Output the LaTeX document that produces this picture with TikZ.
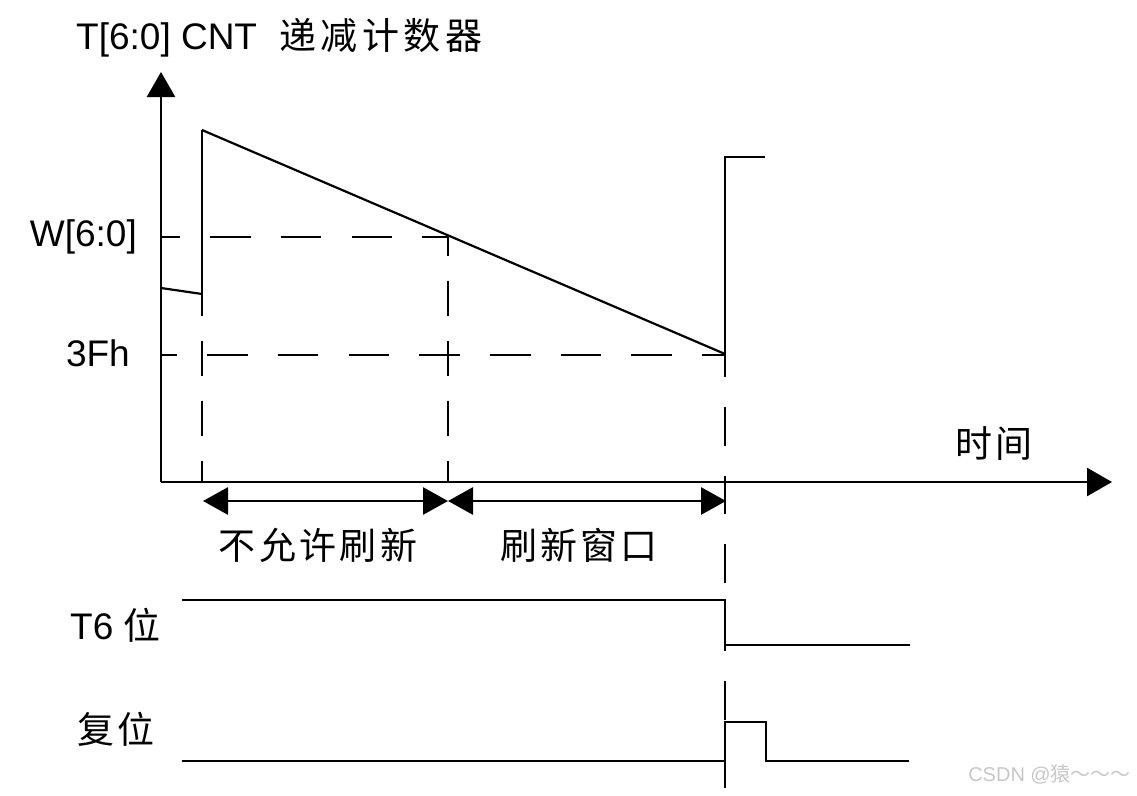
\documentclass[tikz,border=0pt]{standalone}
\usepackage{fontspec}
\setmainfont{Liberation Sans}
\newfontfamily\cjk[LetterSpace=9]{Noto Sans CJK SC}
\newfontfamily\cjkwide[LetterSpace=12]{Noto Sans CJK SC}
\newfontfamily\cjkplain{Noto Sans CJK SC}
\usetikzlibrary{arrows.meta}
\begin{document}
\begin{tikzpicture}[x=1pt,y=-1pt,
  ln/.style={line width=2.8pt},
  thin ln/.style={line width=2.2pt},
  hdash/.style={line width=2.8pt, dash pattern=on 40.5pt off 30.2pt},
  vdash/.style={line width=2.8pt, dash pattern=on 35.5pt off 24.5pt},
  tip/.style={-{Triangle[length=25pt,width=28pt]}},
  dtip/.style={{Triangle[length=25pt,width=27pt]}-{Triangle[length=25pt,width=27pt]}},
  lbl/.style={inner sep=0pt, font=\fontsize{37}{40}\selectfont},
  wmark/.style={inner sep=0pt, font=\fontsize{20}{22}\selectfont, text=black!22}]
\useasboundingbox (0,0) rectangle (1137,795);
% key points
\coordinate (O) at (161,482);
\coordinate (ytop) at (161,72);
\coordinate (xtip) at (1112,482);
\coordinate (s0) at (161,288);
\coordinate (s1) at (202,294);
\coordinate (s2) at (202,130);
\coordinate (s3) at (725,354);
\coordinate (s4) at (725,157);
\coordinate (s5) at (765,157);
\coordinate (w0) at (161,237);
\coordinate (w1) at (448,237);
\coordinate (f0) at (161,355);
\coordinate (f1) at (725,355);
\coordinate (b1) at (202,482);
\coordinate (b2) at (448,482);
\coordinate (b3) at (725,792);
\coordinate (a1) at (203,501);
\coordinate (a2) at (448,501);
\coordinate (a3) at (726,501);
% axes
\draw[ln,tip] (O) -- (ytop);
\draw[ln,tip] (O) -- (xtip);
% sawtooth
\draw[thin ln] (s0) -- (s1);
\draw[ln] (s1) -- (s2);
\draw[thin ln] (s2) -- (s3);
\draw[ln] (s3) -- (s4) -- (s5);
% dashed guides
\draw[hdash, dash phase=21.5pt] (w0) -- (w1);
\draw[hdash, dash phase=24.5pt] (f0) -- (f1);
\draw[vdash, dash phase=13.5pt] (s1) -- (b1);
\draw[vdash, dash phase=16.5pt] (w1) -- (b2);
\draw[line width=2.8pt, dash pattern=on 38.5pt off 30pt, dash phase=15.5pt] (s3) -- (b3);
% interval arrows
\draw[ln,dtip] (a1) -- (a2);
\draw[ln,dtip] (a2) -- (a3);
% T6 bit
\coordinate (t0) at (182,600);
\coordinate (t1) at (725,600);
\coordinate (t2) at (725,645);
\coordinate (t3) at (910,645);
\draw[ln] (t0) -- (t1) -- (t2) -- (t3);
% reset
\coordinate (r0) at (182,761);
\coordinate (r1) at (725,761);
\coordinate (r2) at (725,722);
\coordinate (r3) at (766,722);
\coordinate (r4) at (766,761);
\coordinate (r5) at (909,761);
\draw[ln] (r0) -- (r1) -- (r2) -- (r3) -- (r4) -- (r5);
% labels
\node[lbl, anchor=base west] (title) at (76,49) {T[6:0] CNT\hspace{12pt} {\cjkwide 递减计数器}};
\node[lbl, anchor=east] (wlab) at (137,237) {W[6:0]};
\node[lbl, anchor=east] (flab) at (130,353) {3Fh};
\node[lbl] (time) at (994,444) {\cjk 时间};
\node[lbl] (nolab) at (318,545) {\cjk 不允许刷新};
\node[lbl] (winlab) at (579,545) {\cjk 刷新窗口};
\node[lbl, anchor=west] (t6lab) at (70,625) {T6 {\cjk 位}};
\node[lbl, anchor=west] (rstlab) at (77,729) {\cjk 复位};
\node[wmark, anchor=east] (wm) at (1131,774) {CSDN @{\cjkplain 猿～～～}};
\end{tikzpicture}
\end{document}
